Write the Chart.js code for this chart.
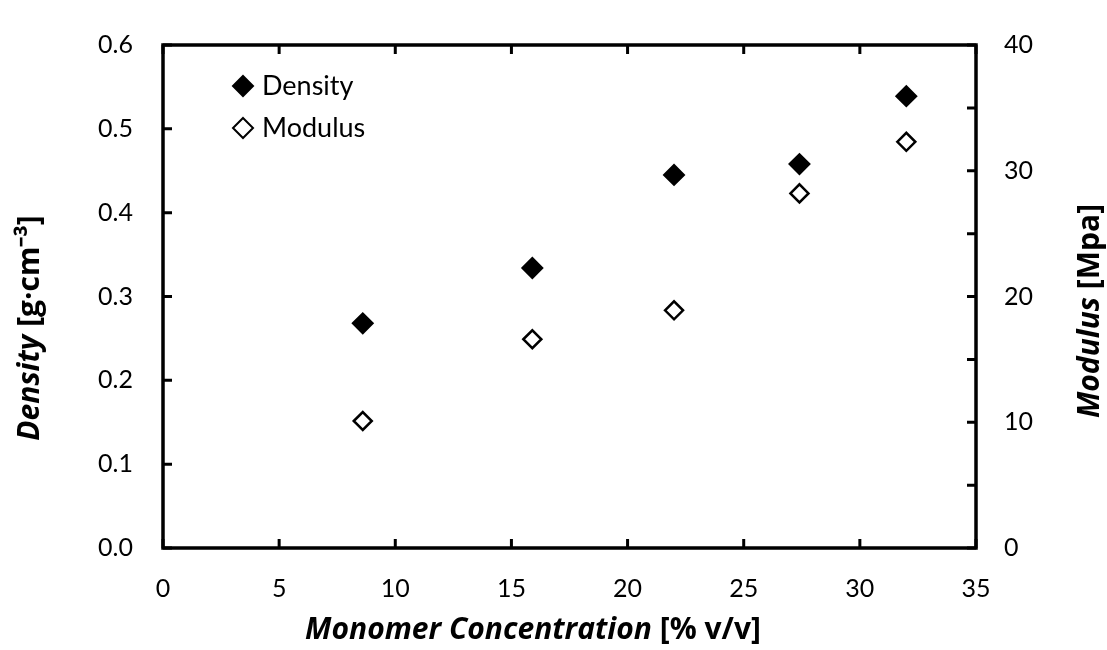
<!DOCTYPE html>
<html lang="en">

<head>
    <meta charset="UTF-8">
    <title>Density and Modulus vs Monomer Concentration</title>
    <script src="https://cdn.jsdelivr.net/npm/chart.js@4.4.0/dist/chart.umd.min.js"></script>
    <style>
        body { margin: 0; background: #fff; }
        #wrap { width: 1107px; height: 650px; }
    </style>
</head>

<body>
    <div id="wrap"><canvas id="myChart" width="1107" height="650"></canvas></div>
    <script>
        // values
        const concentration = [8.6, 15.9, 22.0, 27.4, 32.0];
        const density = [0.268, 0.334, 0.445, 0.458, 0.539];
        const modulus = [10.1, 16.6, 18.9, 28.2, 32.3];

        const xTicks = [0, 5, 10, 15, 20, 25, 30, 35];
        const densityTicks = [0, 0.1, 0.2, 0.3, 0.4, 0.5, 0.6];
        const modulusTicks = [0, 10, 20, 30, 40];

        const FONT = 'Lato';
        const TITLE_FONT = '"Open Sans"';

        const toPoints = (xs, ys) => xs.map((x, i) => ({ x: x, y: ys[i] }));

        function drawDiamond(ctx, x, y, r, filled) {
            ctx.beginPath();
            ctx.moveTo(x, y - r);
            ctx.lineTo(x + r, y);
            ctx.lineTo(x, y + r);
            ctx.lineTo(x - r, y);
            ctx.closePath();
            ctx.fillStyle = filled ? '#000' : '#fff';
            ctx.fill();
            ctx.lineWidth = 2;
            ctx.strokeStyle = '#000';
            ctx.stroke();
        }

        // title in two fonts: italic name + upright unit
        function drawTitle(ctx, parts, cx, cy, rot) {
            ctx.save();
            ctx.translate(cx, cy);
            ctx.rotate(rot);
            let total = 0;
            parts.forEach(p => { ctx.font = p.font; total += ctx.measureText(p.text).width; });
            let x = -total / 2;
            ctx.textBaseline = 'middle';
            ctx.textAlign = 'left';
            ctx.fillStyle = '#000';
            parts.forEach(p => {
                ctx.font = p.font;
                ctx.fillText(p.text, x, 0);
                x += ctx.measureText(p.text).width;
            });
            ctx.restore();
        }

        const framePlugin = {
            id: 'frame',
            afterDraw(chart) {
                const { ctx, chartArea: a, scales } = chart;
                const tl = 9;
                ctx.save();
                ctx.strokeStyle = '#000';
                ctx.lineWidth = 3;
                ctx.beginPath();
                scales.x.ticks.forEach(t => {
                    const px = scales.x.getPixelForValue(t.value);
                    ctx.moveTo(px, a.bottom); ctx.lineTo(px, a.bottom - tl);
                    ctx.moveTo(px, a.top); ctx.lineTo(px, a.top + tl);
                });
                scales.y.ticks.forEach(t => {
                    const py = scales.y.getPixelForValue(t.value);
                    ctx.moveTo(a.left, py); ctx.lineTo(a.left + tl, py);
                });
                scales.y1.ticks.forEach(t => {
                    const py = scales.y1.getPixelForValue(t.value);
                    ctx.moveTo(a.right, py); ctx.lineTo(a.right - tl, py);
                });
                ctx.stroke();
                ctx.lineWidth = 3.5;
                ctx.strokeRect(a.left, a.top, a.right - a.left, a.bottom - a.top);

                const it = 'italic bold 30px ' + TITLE_FONT;
                const bd = 'bold 30px ' + TITLE_FONT;
                drawTitle(ctx, [{ text: 'Monomer Concentration', font: it }, { text: ' [% v/v]', font: bd }], 533, 630, 0);
                drawTitle(ctx, [{ text: 'Density', font: it }, { text: ' [g\u00b7cm\u207b\u00b3]', font: bd }], 30, 328, -Math.PI / 2);
                drawTitle(ctx, [{ text: 'Modulus', font: it }, { text: ' [Mpa]', font: bd }], 1090, 311, -Math.PI / 2);

                // legend
                ctx.font = '27px ' + FONT;
                ctx.textBaseline = 'middle';
                ctx.textAlign = 'left';
                chart.data.datasets.forEach((ds, i) => {
                    const ly = 86 + i * 42;
                    drawDiamond(ctx, 243, ly, 10, ds.backgroundColor === '#000');
                    ctx.fillStyle = '#000';
                    ctx.fillText(ds.label, 262, ly);
                });
                ctx.restore();
            }
        };

        const ctx = document.getElementById('myChart');

        new Chart(ctx, {
            type: 'scatter',
            data: {
                datasets: [{
                        label: 'Density',
                        data: toPoints(concentration, density),
                        yAxisID: 'y',
                        pointStyle: 'rectRot',
                        pointRadius: 10,
                        backgroundColor: '#000',
                        borderColor: '#000',
                        borderWidth: 2,
                    },
                    {
                        label: 'Modulus',
                        data: toPoints(concentration, modulus),
                        yAxisID: 'y1',
                        pointStyle: 'rectRot',
                        pointRadius: 9,
                        backgroundColor: '#fff',
                        borderColor: '#000',
                        borderWidth: 2.5,
                    }
                ]
            },
            options: {
                responsive: false,
                animation: false,
                layout: { padding: { top: 24 } },
                plugins: {
                    legend: { display: false },
                    tooltip: { enabled: false }
                },
                scales: {
                    x: {
                        type: 'linear',
                        min: 0,
                        max: 35,
                        grid: { display: false, drawTicks: false },
                        border: { display: false },
                        afterBuildTicks: s => { s.ticks = xTicks.map(v => ({ value: v })); },
                        afterFit: s => { s.height = 102; },
                        ticks: {
                            padding: 26,
                            color: '#000',
                            font: { family: FONT, size: 25 },
                            callback: v => String(v)
                        }
                    },
                    y: {
                        position: 'left',
                        min: 0,
                        max: 0.6,
                        grid: { display: false, drawTicks: false },
                        border: { display: false },
                        afterBuildTicks: s => { s.ticks = densityTicks.map(v => ({ value: v })); },
                        afterFit: s => { s.width = 163; },
                        ticks: {
                            padding: 30,
                            color: '#000',
                            font: { family: FONT, size: 25 },
                            callback: v => Number(v).toFixed(1)
                        }
                    },
                    y1: {
                        position: 'right',
                        min: 0,
                        max: 40,
                        grid: { display: false, drawTicks: false },
                        border: { display: false },
                        afterBuildTicks: s => {
                            const t = [];
                            for (let v = 0; v <= 40; v += 5) t.push({ value: v });
                            s.ticks = t;
                        },
                        afterFit: s => { s.width = 131; },
                        ticks: {
                            padding: 28,
                            color: '#000',
                            font: { family: FONT, size: 25 },
                            callback: v => modulusTicks.includes(v) ? String(v) : ''
                        }
                    }
                }
            },
            plugins: [framePlugin]
        });
    </script>
</body>

</html>
